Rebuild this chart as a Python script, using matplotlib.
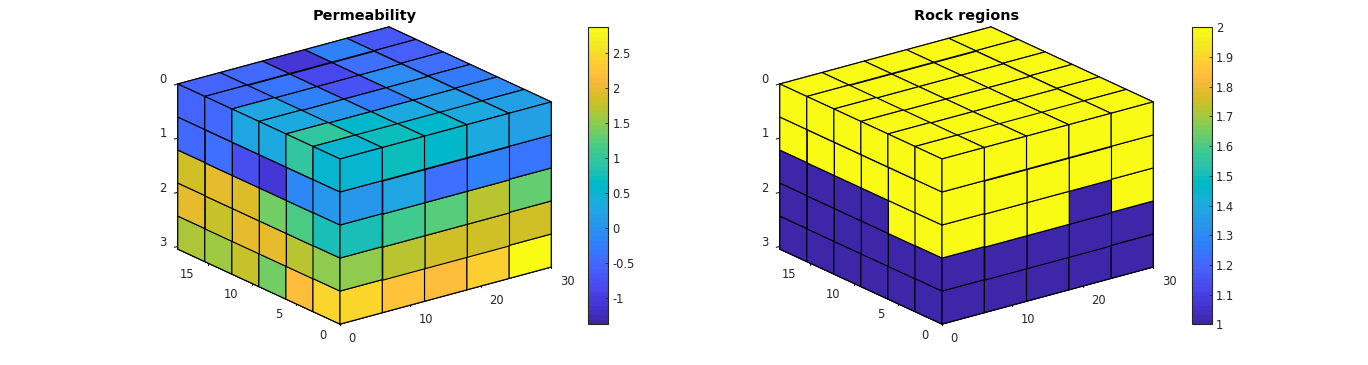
import numpy as np
import matplotlib
matplotlib.use("Agg")
import matplotlib.pyplot as plt
from matplotlib.cm import ScalarMappable
from matplotlib.colors import ListedColormap, Normalize
from matplotlib.ticker import FormatStrFormatter

# === DATA ===
# grid lines of the 5 x 6 x 5 block
x_edges = [0, 6, 12, 18, 24, 30]
y_edges = [0, 3.08, 6.17, 9.25, 12.33, 15.42, 18.5]
z_edges = [0, 0.61, 1.22, 1.83, 2.44, 3.05]

# log permeability, top face: one row per y cell (front to back), one value per x cell
perm_top = [
    [0.5, 0.7, 0.55, 0.3, 0.15],
    [0.95, 0.6, 0.3, 0.15, -0.1],
    [0.3, 0.05, -0.3, -0.05, -0.3],
    [0.25, -0.2, -0.75, -0.1, -0.45],
    [-0.5, -0.35, -0.85, -0.4, -0.6],
    [-0.55, -0.5, -1.05, -0.2, -0.7],
]
# front face (y = 0): one row per layer, one value per x cell
perm_front = [
    [0.5, 0.7, 0.55, 0.3, 0.15],
    [0.05, 0.25, -0.42, -0.2, -0.35],
    [0.75, 1.1, 1.25, 1.72, 1.3],
    [1.5, 1.72, 1.83, 1.82, 1.85],
    [2.45, 2.23, 2.15, 2.35, 2.87],
]
# side face (x = 0): one row per layer, one value per y cell (front to back)
perm_side = [
    [0.5, 0.95, 0.3, 0.25, -0.5, -0.55],
    [0.05, -0.15, -1.05, -0.8, -0.4, -0.5],
    [0.75, 1.15, 1.4, 1.93, 1.97, 1.82],
    [1.5, 1.68, 2.0, 1.95, 1.77, 1.97],
    [2.45, 2.15, 1.4, 1.77, 1.55, 1.65],
]

rock_top = [
    [2, 2, 2, 2, 2],
    [2, 2, 2, 2, 2],
    [2, 2, 2, 2, 2],
    [2, 2, 2, 2, 2],
    [2, 2, 2, 2, 2],
    [2, 2, 2, 2, 2],
]
rock_front = [
    [2, 2, 2, 2, 2],
    [2, 2, 2, 2, 2],
    [2, 2, 2, 1, 2],
    [1, 1, 1, 1, 1],
    [1, 1, 1, 1, 1],
]
rock_side = [
    [2, 2, 2, 2, 2, 2],
    [2, 2, 2, 2, 2, 2],
    [2, 2, 1, 1, 1, 1],
    [1, 1, 1, 1, 1, 1],
    [1, 1, 1, 1, 1, 1],
]

x_ticks = [0, 10, 20, 30]
y_ticks = [0, 5, 10, 15]
z_ticks = [0, 1, 2, 3]
perm_cbar_ticks = [-1, -0.5, 0, 0.5, 1, 1.5, 2, 2.5]
rock_cbar_ticks = [1, 1.1, 1.2, 1.3, 1.4, 1.5, 1.6, 1.7, 1.8, 1.9, 2]
perm_range = (-1.38, 2.87)
rock_range = (1, 2)

# MATLAB parula, 64 levels
parula = ListedColormap([
    [0.2422, 0.1504, 0.6603], [0.2504, 0.1650, 0.7076], [0.2578, 0.1818, 0.7511], [0.2647, 0.1978, 0.7952],
    [0.2706, 0.2147, 0.8364], [0.2751, 0.2342, 0.8710], [0.2783, 0.2559, 0.8991], [0.2803, 0.2782, 0.9221],
    [0.2813, 0.3006, 0.9414], [0.2810, 0.3228, 0.9579], [0.2795, 0.3447, 0.9717], [0.2760, 0.3667, 0.9829],
    [0.2699, 0.3892, 0.9906], [0.2602, 0.4123, 0.9952], [0.2440, 0.4358, 0.9988], [0.2206, 0.4603, 0.9973],
    [0.1963, 0.4847, 0.9892], [0.1834, 0.5074, 0.9798], [0.1786, 0.5289, 0.9682], [0.1764, 0.5499, 0.9520],
    [0.1687, 0.5703, 0.9359], [0.1540, 0.5902, 0.9218], [0.1460, 0.6091, 0.9079], [0.1380, 0.6276, 0.8973],
    [0.1248, 0.6459, 0.8883], [0.1113, 0.6635, 0.8763], [0.0952, 0.6798, 0.8598], [0.0689, 0.6948, 0.8394],
    [0.0297, 0.7082, 0.8163], [0.0036, 0.7203, 0.7917], [0.0067, 0.7312, 0.7660], [0.0433, 0.7411, 0.7394],
    [0.0964, 0.7500, 0.7120], [0.1408, 0.7584, 0.6842], [0.1717, 0.7670, 0.6554], [0.1938, 0.7758, 0.6251],
    [0.2161, 0.7843, 0.5923], [0.2470, 0.7918, 0.5567], [0.2906, 0.7973, 0.5188], [0.3406, 0.8008, 0.4789],
    [0.3909, 0.8029, 0.4354], [0.4456, 0.8024, 0.3909], [0.5044, 0.7993, 0.3480], [0.5616, 0.7942, 0.3045],
    [0.6174, 0.7876, 0.2612], [0.6720, 0.7793, 0.2227], [0.7242, 0.7698, 0.1910], [0.7738, 0.7598, 0.1646],
    [0.8203, 0.7498, 0.1535], [0.8634, 0.7406, 0.1596], [0.9035, 0.7330, 0.1774], [0.9393, 0.7288, 0.2100],
    [0.9728, 0.7298, 0.2394], [0.9956, 0.7434, 0.2371], [0.9970, 0.7659, 0.2199], [0.9952, 0.7893, 0.2028],
    [0.9892, 0.8136, 0.1885], [0.9786, 0.8386, 0.1766], [0.9676, 0.8639, 0.1643], [0.9610, 0.8890, 0.1537],
    [0.9597, 0.9135, 0.1423], [0.9628, 0.9373, 0.1265], [0.9691, 0.9606, 0.1064], [0.9769, 0.9839, 0.0805],
])

plt.rcParams["font.family"] = "DejaVu Sans"
plt.rcParams["axes.unicode_minus"] = False
W, H = 1368, 365
text_grey = "#262626"


def build_block(top, front, side):
    # cell values as array[x, y, z], only the three visible faces are known
    block = np.zeros((5, 6, 5))
    block[:, 0, :] = np.array(front).T
    block[0, :, :] = np.array(side).T
    block[:, :, 0] = np.array(top).T
    return block


def draw_block(center_px, top, front, side, vrange, title):
    size = 404  # px, gives the right scale for this box aspect
    left = (center_px[0] - 0.5135 * size) / W
    bottom = (H - center_px[1] - 0.5135 * size) / H
    ax = plt.gcf().add_axes([left, bottom, size / W, size / H], projection="3d")
    ax.set_proj_type("ortho")
    ax.view_init(elev=20.7, azim=-127.4)
    ax.set_box_aspect((265.7, 266.9, 176.4))
    ax.patch.set_alpha(0)

    norm = Normalize(*vrange)
    values = build_block(top, front, side)
    colors = parula(norm(values))
    X, Y, Z = np.meshgrid(x_edges, y_edges, z_edges, indexing="ij")
    ax.voxels(X, Y, Z, np.ones(values.shape, dtype=bool), facecolors=colors,
              edgecolors="black", linewidth=0.8, shade=False)

    ax.set_xlim(x_edges[0], x_edges[-1])
    ax.set_ylim(y_edges[0], y_edges[-1])
    ax.set_zlim(z_edges[-1], z_edges[0])
    ax.set_xticks(x_ticks)
    ax.set_yticks(y_ticks)
    ax.set_zticks(z_ticks)
    ax.tick_params(labelsize=8.3, labelcolor=text_grey, color=text_grey)
    ax.tick_params(axis="x", pad=0)
    ax.tick_params(axis="y", pad=2)
    ax.tick_params(axis="z", pad=-2)
    ax.grid(False)
    for axis in (ax.xaxis, ax.yaxis, ax.zaxis):
        axis.set_pane_color((1, 1, 1, 0))
        axis.pane.set_edgecolor((1, 1, 1, 0))
        axis.line.set_color(text_grey)
        axis.line.set_linewidth(0.8)
        axis.set_ticks_position("upper")
    for label in ax.get_xticklabels():
        label.set_horizontalalignment("left")
        label.set_verticalalignment("center_baseline")
    for label in ax.get_yticklabels():
        label.set_horizontalalignment("right")
        label.set_verticalalignment("baseline")
    for label in ax.get_zticklabels():
        label.set_verticalalignment("baseline")
    ax.set_title(title, fontsize=10.4, fontweight="bold", x=0.5135, y=0.977, pad=0)
    return ax, norm


def draw_colorbar(left_px, norm, ticks, fmt):
    cax = plt.gcf().add_axes([left_px / W, (H - 324.3) / H, 20 / W, 297 / H])
    cbar = plt.colorbar(ScalarMappable(norm=norm, cmap=parula), cax=cax)
    cbar.set_ticks(ticks)
    cbar.ax.yaxis.set_major_formatter(FormatStrFormatter(fmt))
    cbar.ax.tick_params(direction="in", length=2.5, width=0.6, labelsize=8.3,
                        labelcolor=text_grey, color=text_grey, pad=3)
    cbar.outline.set_linewidth(0.8)
    cbar.outline.set_edgecolor(text_grey)


fig = plt.figure(figsize=(W / 100, H / 100), dpi=100)

ax1, perm_norm = draw_block((364.5, 175.5), perm_top, perm_front, perm_side, perm_range, "Permeability")
draw_colorbar(588.3, perm_norm, perm_cbar_ticks, "%g")

ax2, rock_norm = draw_block((966.5, 175.5), rock_top, rock_front, rock_side, rock_range, "Rock regions")
draw_colorbar(1191.7, rock_norm, rock_cbar_ticks, "%g")

fig.savefig("out.png", dpi=100)
